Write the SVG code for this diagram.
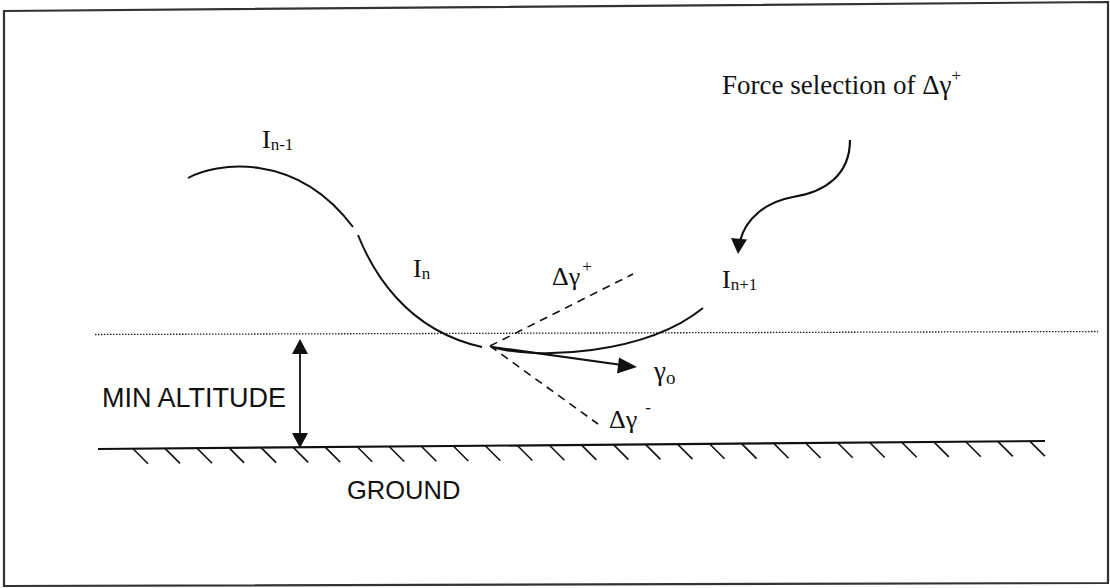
<svg xmlns="http://www.w3.org/2000/svg" width="1110" height="588" viewBox="0 0 1110 588">
<style>
.ser{font-family:"Liberation Serif","Times New Roman",serif;fill:#111}
.san{font-family:"Liberation Sans",Arial,sans-serif;fill:#111}
.curve{fill:none;stroke:#111;stroke-width:2}
.dash{fill:none;stroke:#111;stroke-width:1.6;stroke-dasharray:8 6}
.hatch{stroke:#111;stroke-width:1.6}
</style>
<rect width="1110" height="588" fill="#fff"/>
<polygon id="frame" points="4,11 1108,2 1108,583 4,586" fill="none" stroke="#333" stroke-width="2.2"/>

<g id="min-altitude-line">
<line x1="95" y1="334.5" x2="1098" y2="331.5" stroke="#222" stroke-width="1.3" stroke-dasharray="1.5 1.5"/>
</g>

<g id="ground">
<line x1="98" y1="449" x2="1045" y2="441" stroke="#111" stroke-width="2.2"/>
<g id="hatches" class="hatch">
<line x1="133" y1="448.7" x2="148" y2="463.7"/>
<line x1="165" y1="448.4" x2="180" y2="463.4"/>
<line x1="197.1" y1="448.2" x2="212.1" y2="463.2"/>
<line x1="229.1" y1="447.9" x2="244.1" y2="462.9"/>
<line x1="261.1" y1="447.6" x2="276.1" y2="462.6"/>
<line x1="293.2" y1="447.4" x2="308.2" y2="462.4"/>
<line x1="325.2" y1="447.1" x2="340.2" y2="462.1"/>
<line x1="357.2" y1="446.8" x2="372.2" y2="461.8"/>
<line x1="389.2" y1="446.5" x2="404.2" y2="461.5"/>
<line x1="421.3" y1="446.3" x2="436.3" y2="461.3"/>
<line x1="453.3" y1="446" x2="468.3" y2="461"/>
<line x1="485.3" y1="445.7" x2="500.3" y2="460.7"/>
<line x1="517.4" y1="445.5" x2="532.4" y2="460.5"/>
<line x1="549.4" y1="445.2" x2="564.4" y2="460.2"/>
<line x1="581.4" y1="444.9" x2="596.4" y2="459.9"/>
<line x1="613.5" y1="444.6" x2="628.5" y2="459.6"/>
<line x1="645.5" y1="444.4" x2="660.5" y2="459.4"/>
<line x1="677.5" y1="444.1" x2="692.5" y2="459.1"/>
<line x1="709.5" y1="443.8" x2="724.5" y2="458.8"/>
<line x1="741.6" y1="443.6" x2="756.6" y2="458.6"/>
<line x1="773.6" y1="443.3" x2="788.6" y2="458.3"/>
<line x1="805.6" y1="443" x2="820.6" y2="458"/>
<line x1="837.7" y1="442.7" x2="852.7" y2="457.7"/>
<line x1="869.7" y1="442.5" x2="884.7" y2="457.5"/>
<line x1="901.7" y1="442.2" x2="916.7" y2="457.2"/>
<line x1="933.8" y1="441.9" x2="948.8" y2="456.9"/>
<line x1="965.8" y1="441.7" x2="980.8" y2="456.7"/>
<line x1="997.8" y1="441.4" x2="1012.8" y2="456.4"/>
<line x1="1029.8" y1="441.1" x2="1044.8" y2="456.1"/>
</g>
<text class="san" x="347" y="499" font-size="25.5">GROUND</text>
</g>

<g id="segment-n-1">
<path class="curve" d="M188,178 C215,163 295,150 353,227"/>
<text class="ser" x="262" y="148" font-size="26">I<tspan font-size="17" dy="2">n-1</tspan></text>
</g>

<g id="segment-n">
<path class="curve" d="M358,235 C372,270 405,330 482,347"/>
<text class="ser" x="413" y="277" font-size="26">I<tspan font-size="17" dy="2">n</tspan></text>
</g>

<g id="segment-n+1">
<path class="curve" d="M492,347 C535,360 645,355 703,308"/>
<text class="ser" x="722" y="288" font-size="26">I<tspan font-size="17" dy="2">n+1</tspan></text>
</g>

<g id="labels">
<text class="ser" x="552" y="285" font-size="26">Δγ<tspan font-size="17" dx="2" dy="-13">+</tspan></text>
<text class="ser" x="654" y="380" font-size="27">γ<tspan font-size="19" dy="4">o</tspan></text>
<text class="ser" x="609" y="428" font-size="26">Δγ<tspan font-size="17" dx="8" dy="-15">-</tspan></text>
<text class="san" x="102" y="407" font-size="27">MIN ALTITUDE</text>
<text class="ser" x="722" y="94" font-size="27">Force selection of Δγ<tspan font-size="17" dy="-13">+</tspan></text>
</g>

<g id="connectors">
<line class="dash" x1="490" y1="346" x2="633" y2="274"/>
<line class="dash" x1="490" y1="346" x2="598" y2="424"/>
<path d="M492,347 L622,365" fill="none" stroke="#111" stroke-width="2.2"/>
<polygon points="637,367 619,357.5 617,373.5" fill="#111"/>
<line x1="300" y1="352" x2="300" y2="434" stroke="#111" stroke-width="1.8"/>
<polygon points="300,339 292,354 308,354" fill="#111"/>
<polygon points="300,448 292,433 308,433" fill="#111"/>
<path d="M850,140 C850,175 825,192 793,197 C766,202 746,218 740,241" fill="none" stroke="#111" stroke-width="2.2"/>
<polygon points="738,254 731,238 747,239.5" fill="#111"/>
</g>
</svg>
